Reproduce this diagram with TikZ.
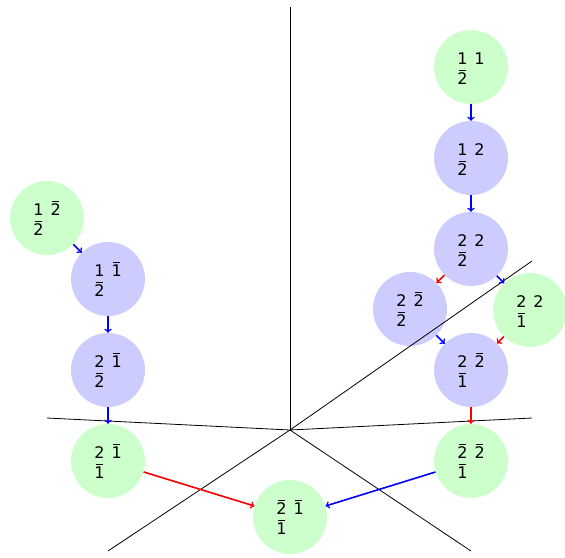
\documentclass[tikz,border=0pt]{standalone}
\usepackage{fontspec}
\setmainfont{DejaVu Sans}
\definecolor{vgreen}{HTML}{CCFFCC}
\definecolor{vblue}{HTML}{CCCCFF}
% digit with a bar over it
\newcommand\ob[1]{\setbox0\hbox{#1}\vbox{\hbox to\wd0{\hfil\vrule width 0.75\wd0 height 1pt\hfil}\kern1.6pt\box0}}
% two stacked entries on the left, one entry to the right of the top one
\newcommand\tabl[3]{\begin{tabular}[t]{@{}l@{\hspace{7pt}}l@{}}#1&#2\\#3&\end{tabular}}
\tikzset{
  state/.style={circle, inner sep=0pt, minimum size=74pt, text depth=19pt,
    font=\fontsize{16}{19}\selectfont},
  even/.style={state, fill=vgreen},
  odd/.style={state, fill=vblue},
  axis/.style={black, line width=0.8pt},
  fb/.style={->, blue, line width=1.6pt},
  fr/.style={->, red, line width=1.6pt},
}
\begin{document}
\begin{tikzpicture}[x=1pt, y=-1pt]
\useasboundingbox (0,0) rectangle (565,557);

% weight nodes
\node[even] (a) at (47,218)  {\tabl{1}{\ob{2}}{\ob{2}}};
\node[odd]  (b) at (108,279) {\tabl{1}{\ob{1}}{\ob{2}}};
\node[odd]  (c) at (108,370) {\tabl{2}{\ob{1}}{\ob{2}}};
\node[even] (d) at (108,461) {\tabl{2}{\ob{1}}{\ob{1}}};
\node[even] (e) at (290,517) {\tabl{\ob{2}}{\ob{1}}{\ob{1}}};

\node[even] (p) at (471,67)  {\tabl{1}{1}{\ob{2}}};
\node[odd]  (q) at (471,158) {\tabl{1}{2}{\ob{2}}};
\node[odd]  (r) at (471,249) {\tabl{2}{2}{\ob{2}}};
\node[odd]  (s) at (410,309) {\tabl{2}{\ob{2}}{\ob{2}}};
\node[even] (t) at (530,310) {\tabl{2}{2}{\ob{1}}};
\node[odd]  (u) at (471,370) {\tabl{2}{\ob{2}}{\ob{1}}};
\node[even] (v) at (471,461) {\tabl{\ob{2}}{\ob{2}}{\ob{1}}};

% axes through the origin
\coordinate (o)  at (290,430);
\coordinate (xt) at (290,7);
\coordinate (xl) at (47,418);
\coordinate (xr) at (532,418);
\coordinate (xu) at (532,261);
\coordinate (xa) at (108,551);
\coordinate (xb) at (471,551);
\draw[axis] (o) -- (xt);
\draw[axis] (o) -- (xl);
\draw[axis] (o) -- (xr);
\draw[axis] (o) -- (xu);
\draw[axis] (o) -- (xa);
\draw[axis] (o) -- (xb);

% operators
\draw[fb] (a) -- (b);
\draw[fb] (b) -- (c);
\draw[fb] (c) -- (d);
\draw[fr] (d) -- (e);
\draw[fb] (v) -- (e);

\draw[fb] (p) -- (q);
\draw[fb] (q) -- (r);
\draw[fr] (r) -- (s);
\draw[fb] (r) -- (t);
\draw[fb] (s) -- (u);
\draw[fr] (t) -- (u);
\draw[fr] (u) -- (v);
\end{tikzpicture}
\end{document}
